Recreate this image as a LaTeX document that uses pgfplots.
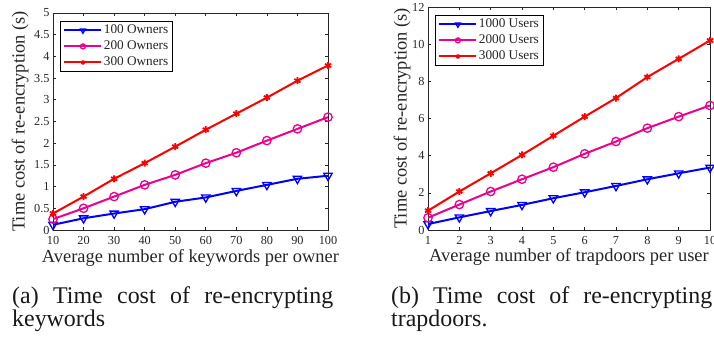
\documentclass[border=0pt]{standalone}
\usepackage{fontspec}
\setmainfont{Liberation Serif}
\usepackage{pgfplots}
\pgfplotsset{compat=1.18}
\definecolor{axgray}{rgb}{0.15,0.15,0.15}
\definecolor{txtgray}{rgb}{0.15,0.15,0.15}
\pgfplotsset{
  matstyle/.style={
    scale only axis,
    axis line style={axgray, line width=0.6bp},
    tick style={axgray, line width=0.6bp},
    tick align=inside,
    major tick length=3bp,
    /pgf/number format/assume math mode=true,
    every tick label/.append style={font=\fontsize{12.3}{13}\selectfont, text=txtgray},
    xticklabel style={yshift=-2.5bp},
    label style={font=\fontsize{18.5}{20}\selectfont, text=txtgray},
    legend cell align=left,
    legend style={draw=black, line width=0.8bp, fill=white,
      font=\fontsize{13.3}{14}\selectfont, text=txtgray,
      inner xsep=3bp, inner ysep=1.5bp,
      nodes={inner sep=1.5bp, text height=9.5bp, text depth=2.5bp},
      row sep=1bp},
    legend image code/.code={\draw[mark repeat=2,mark phase=2, every mark/.append style={scale=0.6}] plot coordinates {(0bp,0bp) (18.5bp,0bp) (37bp,0bp)};},
  },
  sblue/.style={color=blue, line width=2bp, mark=triangle, mark size=4.8bp, mark options={rotate=180, line width=1.3bp, fill=none, solid}},
  smag/.style={color=magenta, line width=2bp, mark=o, mark size=4.2bp, mark options={line width=1.3bp, solid}},
  sred/.style={color=red, line width=2bp, mark=asterisk, mark size=3.5bp, mark options={line width=1.8bp, solid}},
}
\begin{document}
\begin{tikzpicture}
\useasboundingbox (0,0) rectangle (714bp,338bp);
\clip (0,0) rectangle (714bp,338bp);
\begin{axis}[matstyle,
  at={(53bp,108bp)}, anchor=south west,
  width=275bp, height=217bp,
  xmin=10, xmax=100, ymin=0, ymax=5,
  xtick={10,20,...,100},
  ytick={0,0.5,1,1.5,2,2.5,3,3.5,4,4.5,5},
  xlabel={Average number of keywords per owner},
  ylabel={Time cost of re-encryption (s)},
  xlabel style={at={(axis description cs:0.5,-0.1475)}, anchor=base},
  ylabel style={at={(axis description cs:-0.12,0.5)}, anchor=center},
  legend style={at={(axis description cs:0.0255,0.963)}, anchor=north west},
]
\addplot[sblue] coordinates {(10,0.12) (20,0.27) (30,0.38) (40,0.48) (50,0.65) (60,0.75) (70,0.9) (80,1.04) (90,1.18) (100,1.25)};
\addplot[smag] coordinates {(10,0.25) (20,0.5) (30,0.77) (40,1.04) (50,1.27) (60,1.54) (70,1.78) (80,2.06) (90,2.33) (100,2.6)};
\addplot[sred] coordinates {(10,0.38) (20,0.77) (30,1.18) (40,1.54) (50,1.92) (60,2.31) (70,2.68) (80,3.05) (90,3.44) (100,3.79)};
\legend{100 Owners, 200 Owners, 300 Owners}
\end{axis}
\begin{axis}[matstyle,
  at={(428bp,108bp)}, anchor=south west,
  width=282bp, height=223bp,
  xmin=1, xmax=10, ymin=0, ymax=12,
  xtick={1,2,...,10},
  ytick={0,2,...,12},
  xlabel={Average number of trapdoors per user},
  ylabel={Time cost of re-encryption (s)},
  xlabel style={at={(axis description cs:0.5,-0.1435)}, anchor=base},
  ylabel style={at={(axis description cs:-0.092,0.5)}, anchor=center},
  legend style={at={(axis description cs:0.0248,0.964)}, anchor=north west},
]
\addplot[sblue] coordinates {(1,0.32) (2,0.68) (3,1.02) (4,1.35) (5,1.71) (6,2.03) (7,2.37) (8,2.73) (9,3.05) (10,3.36)};
\addplot[smag] coordinates {(1,0.66) (2,1.37) (3,2.07) (4,2.73) (5,3.38) (6,4.1) (7,4.76) (8,5.48) (9,6.1) (10,6.7)};
\addplot[sred] coordinates {(1,1.04) (2,2.07) (3,3.05) (4,4.04) (5,5.07) (6,6.1) (7,7.1) (8,8.23) (9,9.21) (10,10.2)};
\legend{1000 Users, 2000 Users, 3000 Users}
\end{axis}
\node[anchor=base west, inner sep=0, font=\fontsize{24}{24}\selectfont, text=black!90] at (12bp,35bp) {\makebox[321bp][s]{(a) Time cost of re-encrypting}};
\node[anchor=base west, inner sep=0, font=\fontsize{24}{24}\selectfont, text=black!90] at (12bp,12bp) {keywords};
\node[anchor=base west, inner sep=0, font=\fontsize{24}{24}\selectfont, text=black!90] at (391bp,35bp) {\makebox[321bp][s]{(b) Time cost of re-encrypting}};
\node[anchor=base west, inner sep=0, font=\fontsize{24}{24}\selectfont, text=black!90] at (391bp,12bp) {trapdoors.};
\end{tikzpicture}
\end{document}
